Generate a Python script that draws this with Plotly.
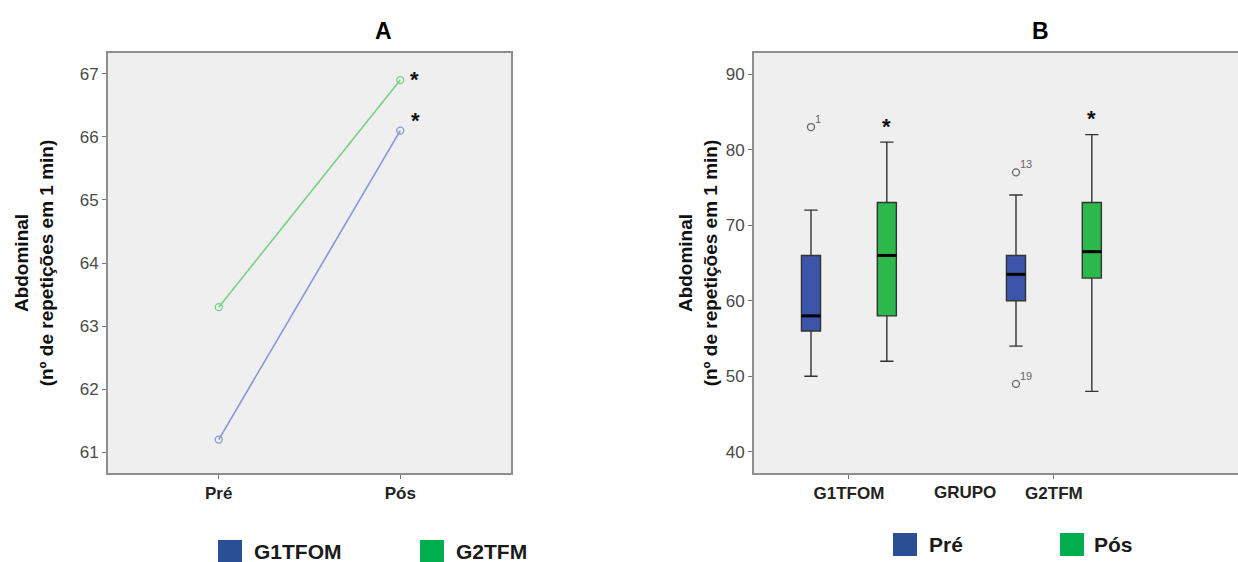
import plotly.graph_objects as go

# ---- Panel A: mean repetitions, Pré vs Pós, per group ----
moments = ["Pré", "Pós"]
g1_means = [61.2, 66.1]   # G1TFOM
g2_means = [63.3, 66.9]   # G2TFM
a_yticks = [61, 62, 63, 64, 65, 66, 67]

# ---- Panel B: box plot summaries per group ----
groups = ["G1TFOM", "G2TFM"]
pre_q1 = [56, 60]
pre_median = [58, 63.5]
pre_q3 = [66, 66]
pre_low = [50, 54]
pre_high = [72, 74]
pos_q1 = [58, 63]
pos_median = [66, 66.5]
pos_q3 = [73, 73]
pos_low = [52, 48]
pos_high = [81, 82]
outlier_group = [0, 1, 1]
outlier_value = [83, 77, 49]
outlier_case = ["1", "13", "19"]
b_yticks = [40, 50, 60, 70, 80, 90]

W, H = 1238, 562
BLUE_LINE = "#8796d6"
GREEN_LINE = "#74d283"
BLUE_FILL = "#3c55a9"
GREEN_FILL = "#2db84b"
BLUE_KEY = "#2b4f95"
GREEN_KEY = "#00ad4f"
FRAME = "#8e8e8e"
PLOT_BG = "#efefef"
SANS = "Liberation Sans, Arial, sans-serif"
OFF = 0.185   # half-distance between the Pré and Pós boxes in a group
BOX_W = 0.093


def px(x):
    return x / W


def py(y):
    return 1 - y / H


fig = go.Figure()

# Panel A lines
for name, vals, col in [("G1TFOM", g1_means, BLUE_LINE), ("G2TFM", g2_means, GREEN_LINE)]:
    fig.add_trace(go.Scatter(
        x=moments, y=vals, mode="lines+markers", name=name,
        line=dict(color=col, width=1.6),
        marker=dict(symbol="circle-open", size=7, color=col, line=dict(width=1.3)),
        xaxis="x", yaxis="y", showlegend=False))

# Panel B boxes
pre_x = [i - OFF for i in range(len(groups))]
pos_x = [i + OFF for i in range(len(groups))]
for name, xs, q1, med, q3, lo, hi, fill in [
        ("Pré", pre_x, pre_q1, pre_median, pre_q3, pre_low, pre_high, BLUE_FILL),
        ("Pós", pos_x, pos_q1, pos_median, pos_q3, pos_low, pos_high, GREEN_FILL)]:
    fig.add_trace(go.Box(
        x=xs, q1=q1, median=med, q3=q3, lowerfence=lo, upperfence=hi, name=name,
        width=BOX_W, whiskerwidth=0.7, fillcolor=fill,
        line=dict(color="#333333", width=1.4),
        xaxis="x2", yaxis="y2", showlegend=False))
    # heavier median bar drawn over each box
    mx, my = [], []
    for x, m in zip(xs, med):
        mx += [x - BOX_W / 2, x + BOX_W / 2, None]
        my += [m, m, None]
    fig.add_trace(go.Scatter(
        x=mx, y=my, mode="lines", line=dict(color="#000000", width=3),
        xaxis="x2", yaxis="y2", showlegend=False, hoverinfo="skip"))

# Outliers with case numbers
fig.add_trace(go.Scatter(
    x=[g - OFF for g in outlier_group], y=outlier_value,
    mode="markers", marker=dict(symbol="circle-open", size=7, color="#666666",
                                line=dict(width=1.3)),
    xaxis="x2", yaxis="y2", showlegend=False, hoverinfo="y"))

annotations = []
for g, v, c in zip(outlier_group, outlier_value, outlier_case):
    annotations.append(dict(
        x=g - OFF, y=v, xref="x2", yref="y2", text=c, showarrow=False,
        xanchor="left", yanchor="bottom", xshift=2, yshift=0,
        font=dict(family=SANS, size=11, color="#666666")))

# Significance stars
star_font = dict(family=SANS, size=22, color="#111111")
annotations += [
    dict(x="Pós", y=g2_means[1], xref="x", yref="y", text="<b>*</b>", showarrow=False,
         xanchor="center", yanchor="middle", xshift=14, yshift=1, font=star_font),
    dict(x="Pós", y=g1_means[1], xref="x", yref="y", text="<b>*</b>", showarrow=False,
         xanchor="center", yanchor="middle", xshift=15, yshift=10, font=star_font),
]
for i, hi in enumerate(pos_high):
    annotations.append(dict(
        x=i + OFF, y=hi, xref="x2", yref="y2", text="<b>*</b>", showarrow=False,
        xanchor="center", yanchor="middle", yshift=16, font=star_font))

# Panel titles and grouping label
annotations += [
    dict(x=px(383), y=py(31), xref="paper", yref="paper", text="<b>A</b>",
         xanchor="center", yanchor="middle", showarrow=False,
         font=dict(family=SANS, size=23, color="#000000")),
    dict(x=px(1040), y=py(31), xref="paper", yref="paper", text="<b>B</b>",
         xanchor="center", yanchor="middle", showarrow=False,
         font=dict(family=SANS, size=23, color="#000000")),
    dict(x=px(965), y=py(492), xref="paper", yref="paper", text="<b>GRUPO</b>",
         xanchor="center", yanchor="middle", showarrow=False,
         font=dict(family=SANS, size=17, color="#222222")),
]

# Legends drawn as colour keys with labels
shapes = []
keys = [
    (218, 540, BLUE_KEY, "G1TFOM", 252),
    (420, 540, GREEN_KEY, "G2TFM", 454),
    (893, 533, BLUE_KEY, "Pré", 927),
    (1060, 533, GREEN_KEY, "Pós", 1092),
]
for x0, y0, col, label, tx in keys:
    shapes.append(dict(type="rect", xref="paper", yref="paper",
                       x0=px(x0), x1=px(x0 + 24), y0=py(y0), y1=py(y0 + 23),
                       fillcolor=col, line=dict(width=0)))
    annotations.append(dict(x=px(tx), y=py(y0 + 11), xref="paper", yref="paper",
                            text=f"<b>{label}</b>", showarrow=False,
                            xanchor="left", yanchor="middle",
                            font=dict(family=SANS, size=21, color="#1a1a1a")))

ytitle = "<b>Abdominal<br>(nº de repetições em 1 min)</b>"
tickfont = dict(family=SANS, size=17, color="#4a4a4a")
xtickfont = dict(family=SANS, size=17, color="#222222")
axis_common = dict(showgrid=False, zeroline=False, showline=True,
                   linecolor=FRAME, linewidth=2, ticks="outside",
                   ticklen=4, tickcolor="#777777")

fig.update_layout(
    width=W, height=H,
    margin=dict(l=0, r=0, t=0, b=0),
    paper_bgcolor="white", plot_bgcolor=PLOT_BG,
    shapes=shapes, annotations=annotations,
    xaxis=dict(domain=[px(108), px(511)], anchor="y", type="category",
               range=[-0.61, 1.61], mirror=True,
               tickvals=moments, ticktext=[f"<b>{m}</b>" for m in moments],
               tickfont=xtickfont, **axis_common),
    yaxis=dict(domain=[py(473), py(53)], anchor="x", range=[60.67, 67.33],
               tickvals=a_yticks, mirror=True, tickfont=tickfont,
               title=dict(text=ytitle, standoff=21,
                          font=dict(family=SANS, size=19, color="#111111")),
               **axis_common),
    xaxis2=dict(domain=[px(754), 1.0], anchor="y2", range=[-0.463, 1.898],
                tickvals=list(range(len(groups))),
                ticktext=[f"<b>{g}</b>" for g in groups], mirror=True,
                tickfont=xtickfont, **axis_common),
    yaxis2=dict(domain=[py(473), py(53)], anchor="x2", range=[37.2, 92.8],
                tickvals=b_yticks, tickfont=tickfont,
                title=dict(text=ytitle, standoff=3,
                           font=dict(family=SANS, size=19, color="#111111")),
                **axis_common),
)

fig.write_html("out.html")
